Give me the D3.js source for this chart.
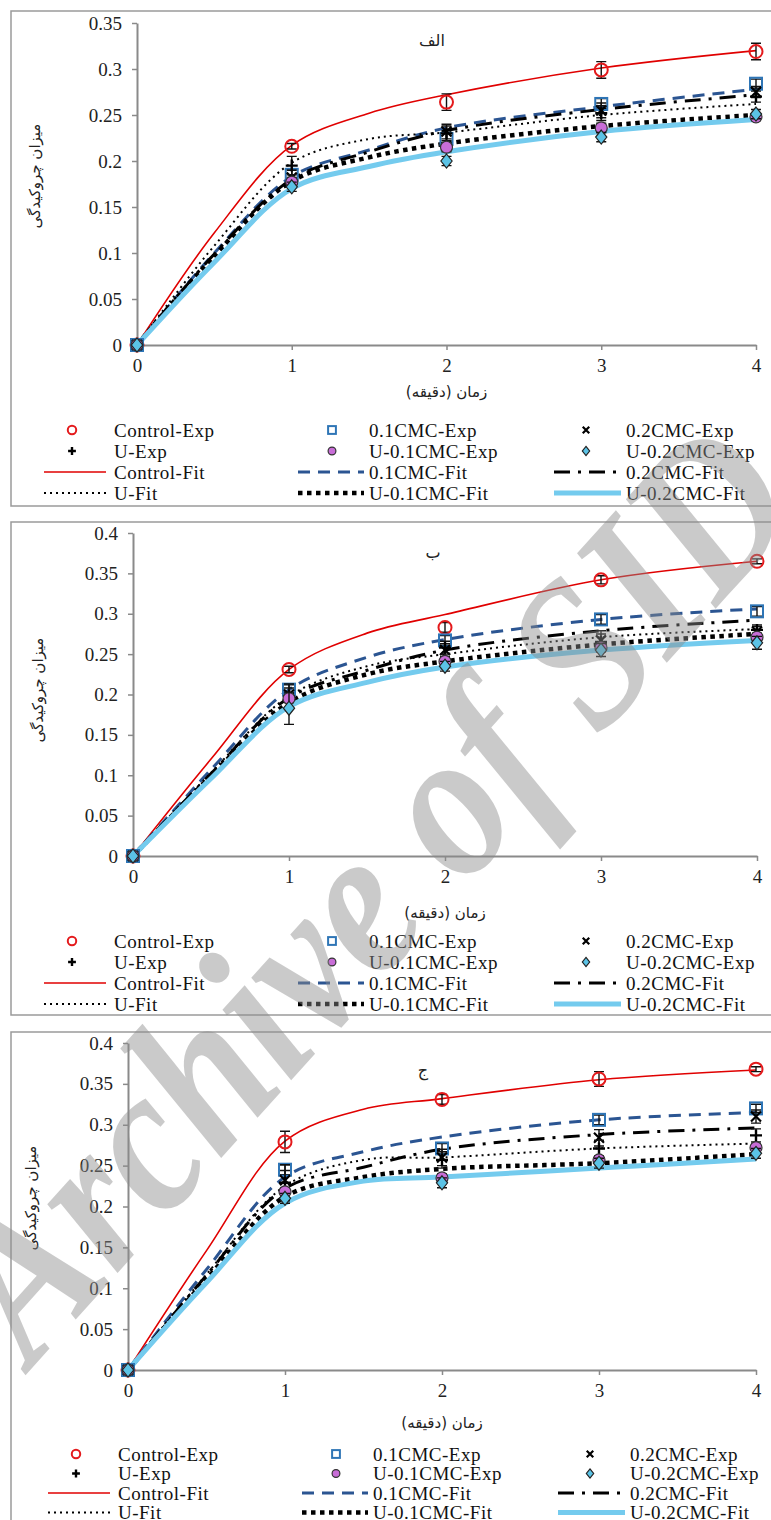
<!DOCTYPE html>
<html>
<head>
<meta charset="utf-8">
<script src="https://cdn.jsdelivr.net/npm/d3@7"></script>
<style>
  body { margin: 0; background: #fff; }
  svg { display: block; }
</style>
</head>
<body>
<div id="chart"></div>
<script>
// زمان (دقیقه)
var times = [0, 1, 2, 3, 4];
var fitTimes = [0, 0.5, 1, 1.5, 2, 3, 4];
var names = ['Control', '0.1CMC', '0.2CMC', 'U', 'U-0.1CMC', 'U-0.2CMC'];
var panelTitles = ['الف', 'ب', 'ج'];
var yMaxes = [0.35, 0.4, 0.4];

// experimental points, one row per name
var expA = [
  [0, 0.216, 0.264, 0.299, 0.319],
  [0, 0.185, 0.224, 0.262, 0.284],
  [0, 0.182, 0.232, 0.255, 0.275],
  [0, 0.195, 0.230, 0.252, 0.270],
  [0, 0.177, 0.215, 0.236, 0.248],
  [0, 0.172, 0.200, 0.226, 0.251]];
var errA = [
  [0, 0.003, 0.009, 0.009, 0.009],
  [0, 0.006, 0.006, 0.006, 0.005],
  [0, 0.008, 0.008, 0.008, 0.006],
  [0, 0.010, 0.008, 0.008, 0.006],
  [0, 0.005, 0.005, 0.005, 0.004],
  [0, 0.005, 0.005, 0.005, 0.005]];
var expB = [
  [0, 0.231, 0.283, 0.342, 0.365],
  [0, 0.206, 0.267, 0.293, 0.303],
  [0, 0.200, 0.255, 0.267, 0.278],
  [0, 0.198, 0.258, 0.265, 0.280],
  [0, 0.195, 0.241, 0.258, 0.271],
  [0, 0.183, 0.235, 0.255, 0.264]];
var errB = [
  [0, 0.004, 0.006, 0.005, 0.003],
  [0, 0.006, 0.006, 0.006, 0.006],
  [0, 0.008, 0.008, 0.012, 0.006],
  [0, 0.015, 0.008, 0.010, 0.006],
  [0, 0.005, 0.005, 0.005, 0.005],
  [0, 0.020, 0.006, 0.008, 0.008]];
var expC = [
  [0, 0.279, 0.331, 0.356, 0.368],
  [0, 0.245, 0.271, 0.306, 0.320],
  [0, 0.232, 0.260, 0.284, 0.310],
  [0, 0.229, 0.257, 0.271, 0.287],
  [0, 0.218, 0.235, 0.257, 0.272],
  [0, 0.210, 0.229, 0.253, 0.265]];
var errC = [
  [0, 0.013, 0.006, 0.009, 0.003],
  [0, 0.006, 0.006, 0.006, 0.005],
  [0, 0.012, 0.010, 0.010, 0.008],
  [0, 0.022, 0.010, 0.010, 0.008],
  [0, 0.005, 0.005, 0.005, 0.005],
  [0, 0.006, 0.006, 0.006, 0.006]];

// fitted curves, sampled at fitTimes
var fitA = [
  [0, 0.122, 0.217, 0.252, 0.272, 0.301, 0.320],
  [0, 0.100, 0.183, 0.212, 0.236, 0.259, 0.278],
  [0, 0.099, 0.180, 0.210, 0.233, 0.256, 0.272],
  [0, 0.108, 0.198, 0.224, 0.231, 0.250, 0.262],
  [0, 0.097, 0.178, 0.204, 0.219, 0.238, 0.250],
  [0, 0.090, 0.170, 0.194, 0.210, 0.232, 0.245]];
var fitB = [
  [0, 0.120, 0.231, 0.276, 0.299, 0.342, 0.365],
  [0, 0.107, 0.206, 0.246, 0.268, 0.293, 0.306],
  [0, 0.102, 0.196, 0.230, 0.255, 0.279, 0.292],
  [0, 0.103, 0.198, 0.235, 0.250, 0.271, 0.281],
  [0, 0.099, 0.190, 0.225, 0.241, 0.262, 0.275],
  [0, 0.096, 0.185, 0.215, 0.234, 0.255, 0.267]];
var fitC = [
  [0, 0.146, 0.280, 0.319, 0.332, 0.355, 0.367],
  [0, 0.123, 0.236, 0.267, 0.285, 0.306, 0.315],
  [0, 0.116, 0.222, 0.248, 0.270, 0.288, 0.296],
  [0, 0.117, 0.225, 0.257, 0.260, 0.271, 0.277],
  [0, 0.111, 0.212, 0.236, 0.246, 0.253, 0.264],
  [0, 0.107, 0.204, 0.231, 0.236, 0.247, 0.258]];

var exps = [expA, expB, expC];
var errs = [errA, errB, errC];
var fits = [fitA, fitB, fitC];

// styles per series
var markerColor = ['#e41a1c', '#2e75b6', '#000', '#000', '#c86dd7', '#5bc3e6'];
var markerType  = ['circle', 'square', 'x', 'plus', 'dot', 'diamond'];
var fitStyle = [
  { stroke: '#e00000', width: 1.6, dash: null },
  { stroke: '#2b5592', width: 3, dash: '12,8' },
  { stroke: '#000',    width: 3, dash: '16,8,3,8' },
  { stroke: '#000',    width: 2, dash: '2,4' },
  { stroke: '#000',    width: 4.5, dash: '4.5,4.5' },
  { stroke: '#74cbee', width: 5, dash: null }];

var layout = [
  { top: 11,   bottom: 506,  left: 11, x0: 137, x1: 756, yZero: 345,  yTop: 23,   xTitleY: 392,  yTitleX: 35, yTitleY: 176,  tx: 432, ty: 40,   legY: 430,  legDy: 21,   legDx: 0 },
  { top: 522,  bottom: 1015, left: 11, x0: 133, x1: 757, yZero: 856,  yTop: 533,  xTitleY: 913,  yTitleX: 38, yTitleY: 690,  tx: 433, ty: 552,  legY: 941,  legDy: 21,   legDx: 0 },
  { top: 1032, bottom: 1560, left: 11, x0: 128, x1: 756, yZero: 1370, yTop: 1043, xTitleY: 1423, yTitleX: 31, yTitleY: 1198, tx: 423, ty: 1070, legY: 1454, legDy: 19.5, legDx: 4 }];

var serif = '"Liberation Serif", "Times New Roman", serif';
var arabic = '"DejaVu Sans", sans-serif';
var axisGray = '#8a8a8a';

var svg = d3.select('#chart').append('svg')
  .attr('width', 771)
  .attr('height', 1520);

function drawMarker(g, type, color, x, y, s) {
  // s = scale factor (1 for plot, smaller for legend)
  if (type === 'circle') {
    g.append('circle').attr('cx', x).attr('cy', y).attr('r', 6.5 * s)
      .attr('fill', 'none').attr('stroke', color).attr('stroke-width', 2);
  } else if (type === 'square') {
    g.append('rect').attr('x', x - 6 * s).attr('y', y - 6 * s)
      .attr('width', 12 * s).attr('height', 12 * s)
      .attr('fill', 'none').attr('stroke', color).attr('stroke-width', 2);
  } else if (type === 'x') {
    var a = 5 * s;
    g.append('path').attr('d', 'M' + (x - a) + ',' + (y - a) + 'L' + (x + a) + ',' + (y + a) +
        'M' + (x - a) + ',' + (y + a) + 'L' + (x + a) + ',' + (y - a))
      .attr('stroke', color).attr('stroke-width', 2.2);
  } else if (type === 'plus') {
    var b = 6 * s;
    g.append('path').attr('d', 'M' + (x - b) + ',' + y + 'L' + (x + b) + ',' + y +
        'M' + x + ',' + (y - b) + 'L' + x + ',' + (y + b))
      .attr('stroke', color).attr('stroke-width', 2.4);
  } else if (type === 'dot') {
    g.append('circle').attr('cx', x).attr('cy', y).attr('r', 6 * s)
      .attr('fill', color).attr('stroke', '#333').attr('stroke-width', 1.2);
  } else if (type === 'diamond') {
    var d = 7 * s;
    g.append('path').attr('d', 'M' + x + ',' + (y - d) + 'L' + (x + d * 0.8) + ',' + y +
        'L' + x + ',' + (y + d) + 'L' + (x - d * 0.8) + ',' + y + 'Z')
      .attr('fill', color).attr('stroke', '#222').attr('stroke-width', 1.2);
  }
}

layout.forEach(function(L, p) {
  var g = svg.append('g');

  // panel frame
  g.append('rect')
    .attr('x', L.left).attr('y', L.top)
    .attr('width', 800).attr('height', L.bottom - L.top)
    .attr('fill', 'none').attr('stroke', '#9a9a9a').attr('stroke-width', 1.5);

  var x = d3.scaleLinear().domain([0, 4]).range([L.x0, L.x1]);
  var y = d3.scaleLinear().domain([0, yMaxes[p]]).range([L.yZero, L.yTop]);
  var yTicks = d3.range(0, yMaxes[p] + 1e-9, 0.05);

  var xAxis = g.append('g')
    .attr('transform', 'translate(0,' + L.yZero + ')')
    .call(d3.axisBottom(x).tickValues(times).tickSize(5).tickSizeOuter(0).tickPadding(9)
      .tickFormat(d3.format('d')));
  var yAxis = g.append('g')
    .attr('transform', 'translate(' + L.x0 + ',0)')
    .call(d3.axisLeft(y).tickValues(yTicks).tickSize(5).tickSizeOuter(0).tickPadding(10)
      .tickFormat(function(d) { return String(+d.toFixed(2)); }));
  [xAxis, yAxis].forEach(function(ax) {
    ax.select('.domain').attr('stroke', axisGray).attr('stroke-width', 2);
    ax.selectAll('.tick line').attr('stroke', axisGray).attr('stroke-width', 1.5);
    ax.selectAll('.tick text').attr('fill', '#222')
      .style('font-family', serif).style('font-size', '19px');
  });

  // axis titles
  g.append('text')
    .attr('x', (L.x0 + L.x1) / 2).attr('y', L.xTitleY)
    .attr('text-anchor', 'middle').attr('dy', '0.35em')
    .style('font-family', arabic).style('font-size', '15px').attr('fill', '#222')
    .text('زمان (دقیقه)');
  g.append('text')
    .attr('transform', 'translate(' + L.yTitleX + ',' + L.yTitleY + ') rotate(-90)')
    .attr('text-anchor', 'middle').attr('dy', '0.35em')
    .style('font-family', arabic).style('font-size', '15px').attr('fill', '#222')
    .text('میزان چروکیدگی');
  g.append('text')
    .attr('x', L.tx).attr('y', L.ty)
    .attr('text-anchor', 'middle').attr('dy', '0.35em')
    .style('font-family', arabic).style('font-size', '16px').attr('fill', '#222')
    .text(panelTitles[p]);

  // fitted curves
  var line = d3.line()
    .x(function(d, i) { return x(fitTimes[i]); })
    .y(function(d) { return y(d); })
    .curve(d3.curveCatmullRom);
  fits[p].forEach(function(vals, s) {
    var st = fitStyle[s];
    g.append('path')
      .attr('d', line(vals))
      .attr('fill', 'none')
      .attr('stroke', st.stroke)
      .attr('stroke-width', st.width)
      .attr('stroke-dasharray', st.dash);
  });

  // experimental points with error bars
  exps[p].forEach(function(vals, s) {
    vals.forEach(function(v, i) {
      var e = errs[p][s][i];
      var cx = x(times[i]);
      if (e > 0) {
        var yt = y(v + e), yb = y(v - e);
        g.append('path')
          .attr('d', 'M' + cx + ',' + yt + 'L' + cx + ',' + yb +
            'M' + (cx - 5) + ',' + yt + 'L' + (cx + 5) + ',' + yt +
            'M' + (cx - 5) + ',' + yb + 'L' + (cx + 5) + ',' + yb)
          .attr('stroke', '#111').attr('stroke-width', 1.4).attr('fill', 'none');
      }
      drawMarker(g, markerType[s], markerColor[s], cx, y(v), 1);
    });
  });

  // legend: 4 rows x 3 columns
  var symX = [72, 332, 586], txtX = [114, 369, 626];
  var lnX0 = [44, 298, 554], lnX1 = [106, 364, 621];
  names.forEach(function(nm, s) {
    var col = s % 3, row = Math.floor(s / 3);
    var ly = L.legY + row * L.legDy;
    drawMarker(g, markerType[s], markerColor[s], symX[col] + L.legDx, ly, 0.65);
    g.append('text')
      .attr('x', txtX[col] + L.legDx).attr('y', ly).attr('dy', '0.35em')
      .style('font-family', serif).style('font-size', '19px')
      .style('letter-spacing', '0.5px').attr('fill', '#111')
      .text(nm + '-Exp');

    var fy = L.legY + (row + 2) * L.legDy;
    var st = fitStyle[s];
    g.append('line')
      .attr('x1', lnX0[col] + L.legDx).attr('x2', lnX1[col] + L.legDx)
      .attr('y1', fy).attr('y2', fy)
      .attr('stroke', st.stroke).attr('stroke-width', st.width)
      .attr('stroke-dasharray', st.dash);
    g.append('text')
      .attr('x', txtX[col] + L.legDx).attr('y', fy).attr('dy', '0.35em')
      .style('font-family', serif).style('font-size', '19px')
      .style('letter-spacing', '0.5px').attr('fill', '#111')
      .text(nm + '-Fit');
  });
});

// watermark
svg.append('text')
  .attr('transform', 'translate(32,1368) rotate(-48) scale(1,1.15)')
  .style('font-family', serif).style('font-size', '186px')
  .style('font-weight', 'bold').style('font-style', 'italic')
  .attr('fill', '#8c8c8c').attr('opacity', 0.45)
  .text('Archive of SID');
</script>
</body>
</html>
